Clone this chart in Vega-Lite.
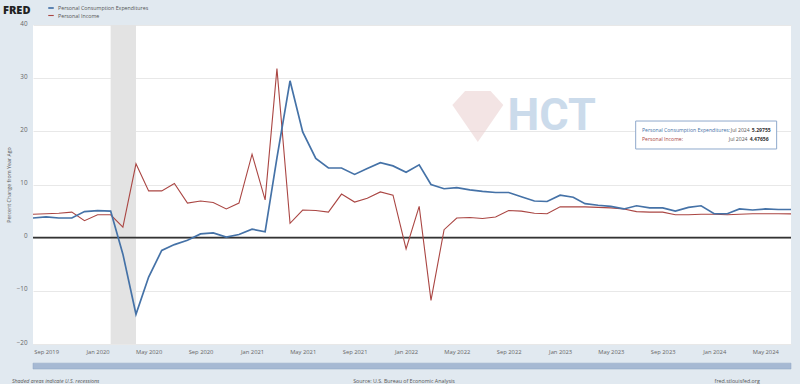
{
  "$schema": "https://vega.github.io/schema/vega-lite/v6.json",
  "width": 758,
  "height": 319,
  "autosize": {"type": "none"},
  "padding": {"left": 33, "top": 25, "right": 9, "bottom": 40},
  "background": "#e1e9f0",
  "config": {
    "view": {"fill": "white", "stroke": null},
    "font": "Open Sans",
    "axisY": {"domain": false, "ticks": false, "grid": true, "gridColor": "#e8e8e8", "labelFontSize": 6.3, "labelColor": "#666666", "labelPadding": 6, "labelBaseline": "alphabetic", "titleFontSize": 5.3, "titleFontWeight": "normal", "titleColor": "#555555", "titlePadding": 5},
    "axisX": {"domain": false, "ticks": false, "grid": false, "labelFontSize": 5.8, "labelColor": "#666666", "labelPadding": 4},
    "legend": {"orient": "none", "legendX": -30, "legendY": -21, "padding": 0, "titleOrient": "left", "titleFontSize": 11, "titleFont": "Open Sans", "titleFontWeight": 900, "titleColor": "#222222", "titlePadding": 16, "labelFontSize": 5.3, "labelColor": "#555555", "symbolType": "stroke", "symbolStrokeWidth": 1.5, "symbolSize": 30, "rowPadding": -1, "labelOffset": 3}
  },
  "datasets": {
    "series": [
      {"date": "2019-08-01", "pce": 3.7, "pi": 4.4},
      {"date": "2019-09-01", "pce": 3.9, "pi": 4.5},
      {"date": "2019-10-01", "pce": 3.7, "pi": 4.6},
      {"date": "2019-11-01", "pce": 3.7, "pi": 4.8},
      {"date": "2019-12-01", "pce": 4.9, "pi": 3.2},
      {"date": "2020-01-01", "pce": 5.1, "pi": 4.3},
      {"date": "2020-02-01", "pce": 5.0, "pi": 4.3},
      {"date": "2020-03-01", "pce": -3.1, "pi": 2.0},
      {"date": "2020-04-01", "pce": -14.4, "pi": 13.9},
      {"date": "2020-05-01", "pce": -7.4, "pi": 8.8},
      {"date": "2020-06-01", "pce": -2.4, "pi": 8.8},
      {"date": "2020-07-01", "pce": -1.3, "pi": 10.2},
      {"date": "2020-08-01", "pce": -0.5, "pi": 6.5},
      {"date": "2020-09-01", "pce": 0.7, "pi": 6.9},
      {"date": "2020-10-01", "pce": 0.9, "pi": 6.6},
      {"date": "2020-11-01", "pce": 0.1, "pi": 5.4},
      {"date": "2020-12-01", "pce": 0.6, "pi": 6.5},
      {"date": "2021-01-01", "pce": 1.6, "pi": 15.7},
      {"date": "2021-02-01", "pce": 1.1, "pi": 7.1},
      {"date": "2021-03-01", "pce": 15.0, "pi": 31.8},
      {"date": "2021-04-01", "pce": 29.5, "pi": 2.7},
      {"date": "2021-05-01", "pce": 19.9, "pi": 5.2},
      {"date": "2021-06-01", "pce": 14.9, "pi": 5.1},
      {"date": "2021-07-01", "pce": 13.1, "pi": 4.8},
      {"date": "2021-08-01", "pce": 13.1, "pi": 8.2},
      {"date": "2021-09-01", "pce": 11.9, "pi": 6.7},
      {"date": "2021-10-01", "pce": 13.0, "pi": 7.4},
      {"date": "2021-11-01", "pce": 14.1, "pi": 8.6},
      {"date": "2021-12-01", "pce": 13.5, "pi": 8.0},
      {"date": "2022-01-01", "pce": 12.3, "pi": -2.1},
      {"date": "2022-02-01", "pce": 13.7, "pi": 5.9},
      {"date": "2022-03-01", "pce": 10.0, "pi": -11.8},
      {"date": "2022-04-01", "pce": 9.2, "pi": 1.5},
      {"date": "2022-05-01", "pce": 9.4, "pi": 3.7},
      {"date": "2022-06-01", "pce": 9.0, "pi": 3.8},
      {"date": "2022-07-01", "pce": 8.7, "pi": 3.6},
      {"date": "2022-08-01", "pce": 8.5, "pi": 3.9},
      {"date": "2022-09-01", "pce": 8.5, "pi": 5.1},
      {"date": "2022-10-01", "pce": 7.7, "pi": 5.0},
      {"date": "2022-11-01", "pce": 6.9, "pi": 4.6},
      {"date": "2022-12-01", "pce": 6.8, "pi": 4.5},
      {"date": "2023-01-01", "pce": 8.0, "pi": 5.8},
      {"date": "2023-02-01", "pce": 7.6, "pi": 5.8},
      {"date": "2023-03-01", "pce": 6.4, "pi": 5.8},
      {"date": "2023-04-01", "pce": 6.1, "pi": 5.7},
      {"date": "2023-05-01", "pce": 5.9, "pi": 5.6},
      {"date": "2023-06-01", "pce": 5.4, "pi": 5.4},
      {"date": "2023-07-01", "pce": 6.0, "pi": 4.9},
      {"date": "2023-08-01", "pce": 5.6, "pi": 4.8},
      {"date": "2023-09-01", "pce": 5.6, "pi": 4.8},
      {"date": "2023-10-01", "pce": 5.0, "pi": 4.3},
      {"date": "2023-11-01", "pce": 5.7, "pi": 4.3},
      {"date": "2023-12-01", "pce": 6.0, "pi": 4.4},
      {"date": "2024-01-01", "pce": 4.5, "pi": 4.4},
      {"date": "2024-02-01", "pce": 4.5, "pi": 4.3},
      {"date": "2024-03-01", "pce": 5.4, "pi": 4.4},
      {"date": "2024-04-01", "pce": 5.2, "pi": 4.5},
      {"date": "2024-05-01", "pce": 5.4, "pi": 4.5},
      {"date": "2024-06-01", "pce": 5.3, "pi": 4.5},
      {"date": "2024-07-01", "pce": 5.29755, "pi": 4.47656}
    ],
    "recessions": [
      {"start": "2020-02-01", "end": "2020-04-01"}
    ],
    "one": [{}]
  },
  "layer": [
    {
      "data": {"name": "recessions"},
      "mark": {"type": "rect", "fill": "#e3e3e3"},
      "encoding": {
        "x": {"field": "start", "type": "temporal", "title": null, "scale": {"domain": [{"year": 2019, "month": 8, "date": 1}, {"year": 2024, "month": 7, "date": 1}], "nice": false}},
        "x2": {"field": "end"}
      }
    },
    {
      "data": {"name": "one"},
      "mark": {"type": "point", "shape": "M-1,-0.45 L-0.5,-1 L0.5,-1 L1,-0.45 L0,1 Z", "filled": true, "size": 2600, "color": "#e9cdcd", "opacity": 0.55},
      "encoding": {
        "x": {"datum": {"year": 2022, "month": 6, "date": 20}, "type": "temporal"},
        "y": {"datum": 22.8, "type": "quantitative"}
      }
    },
    {
      "data": {"name": "one"},
      "mark": {"type": "text", "text": "HCT", "fontSize": 45, "fontWeight": "bold", "font": "Roboto", "color": "#c3d5e8", "opacity": 0.85, "align": "center", "baseline": "middle"},
      "encoding": {
        "x": {"datum": {"year": 2022, "month": 12, "date": 12}, "type": "temporal"},
        "y": {"datum": 22.9, "type": "quantitative"}
      }
    },
    {
      "data": {"name": "one"},
      "mark": {"type": "rule", "color": "#333333", "strokeWidth": 1.6},
      "encoding": {
        "y": {"datum": 0, "type": "quantitative", "scale": {"domain": [-20, 40], "nice": false}}
      }
    },
    {
      "data": {"name": "series"},
      "transform": [{"fold": ["pi", "pce"], "as": ["series", "value"]}],
      "mark": {"type": "line", "interpolate": "linear"},
      "encoding": {
        "x": {"field": "date", "type": "temporal", "title": null, "scale": {"domain": [{"year": 2019, "month": 8, "date": 1}, {"year": 2024, "month": 7, "date": 1}], "nice": false},
          "axis": {"format": "%b %Y", "values": [{"year": 2019, "month": 9, "date": 1}, {"year": 2020, "month": 1, "date": 1}, {"year": 2020, "month": 5, "date": 1}, {"year": 2020, "month": 9, "date": 1}, {"year": 2021, "month": 1, "date": 1}, {"year": 2021, "month": 5, "date": 1}, {"year": 2021, "month": 9, "date": 1}, {"year": 2022, "month": 1, "date": 1}, {"year": 2022, "month": 5, "date": 1}, {"year": 2022, "month": 9, "date": 1}, {"year": 2023, "month": 1, "date": 1}, {"year": 2023, "month": 5, "date": 1}, {"year": 2023, "month": 9, "date": 1}, {"year": 2024, "month": 1, "date": 1}, {"year": 2024, "month": 5, "date": 1}]}},
        "y": {"field": "value", "type": "quantitative", "scale": {"domain": [-20, 40], "nice": false},
          "axis": {"title": "Percent Change from Year Ago", "values": [-20, -10, 0, 10, 20, 30, 40]}},
        "color": {"field": "series", "type": "nominal", "title": "FRED",
          "scale": {"domain": ["pce", "pi"], "range": ["#4572a7", "#aa4643"]},
          "legend": {"labelExpr": "datum.label == 'pce' ? 'Personal Consumption Expenditures' : 'Personal Income'"}},
        "strokeWidth": {"field": "series", "type": "nominal", "legend": null,
          "scale": {"domain": ["pce", "pi"], "range": [1.7, 1.1]}}
      }
    },
    {
      "data": {"name": "one"},
      "mark": {"type": "rect", "fill": "white", "stroke": "#8fa9cc", "strokeWidth": 1},
      "encoding": {
        "x": {"datum": {"year": 2023, "month": 6, "date": 29}, "type": "temporal"},
        "x2": {"datum": {"year": 2024, "month": 5, "date": 28}},
        "y": {"datum": 21.94, "type": "quantitative"},
        "y2": {"datum": 16.68}
      }
    },
    {
      "data": {"name": "one"},
      "mark": {"type": "text", "text": "Personal Consumption Expenditures:", "fontSize": 5.1, "color": "#4572a7", "align": "left", "baseline": "middle"},
      "encoding": {
        "x": {"datum": {"year": 2023, "month": 7, "date": 14}, "type": "temporal"},
        "y": {"datum": 20.25, "type": "quantitative"}
      }
    },
    {
      "data": {"name": "one"},
      "mark": {"type": "text", "text": "Personal Income:", "fontSize": 5.1, "color": "#aa4643", "align": "left", "baseline": "middle"},
      "encoding": {
        "x": {"datum": {"year": 2023, "month": 7, "date": 14}, "type": "temporal"},
        "y": {"datum": 18.56, "type": "quantitative"}
      }
    },
    {
      "data": {"name": "one"},
      "mark": {"type": "text", "text": "Jul 2024", "fontSize": 5.1, "color": "#555555", "align": "right", "baseline": "middle"},
      "encoding": {
        "x": {"datum": {"year": 2024, "month": 3, "date": 25}, "type": "temporal"},
        "y": {"datum": 20.25, "type": "quantitative"}
      }
    },
    {
      "data": {"name": "one"},
      "mark": {"type": "text", "text": "Jul 2024", "fontSize": 5.1, "color": "#555555", "align": "right", "baseline": "middle"},
      "encoding": {
        "x": {"datum": {"year": 2024, "month": 3, "date": 20}, "type": "temporal"},
        "y": {"datum": 18.56, "type": "quantitative"}
      }
    },
    {
      "data": {"name": "one"},
      "mark": {"type": "text", "text": "5.29755", "fontSize": 5.1, "fontWeight": "bold", "color": "#333333", "align": "right", "baseline": "middle"},
      "encoding": {
        "x": {"datum": {"year": 2024, "month": 5, "date": 14}, "type": "temporal"},
        "y": {"datum": 20.25, "type": "quantitative"}
      }
    },
    {
      "data": {"name": "one"},
      "mark": {"type": "text", "text": "4.47656", "fontSize": 5.1, "fontWeight": "bold", "color": "#333333", "align": "right", "baseline": "middle"},
      "encoding": {
        "x": {"datum": {"year": 2024, "month": 5, "date": 9}, "type": "temporal"},
        "y": {"datum": 18.56, "type": "quantitative"}
      }
    },
    {
      "data": {"name": "one"},
      "mark": {"type": "rect", "fill": "#a6b9d3", "stroke": "#8ea4c4", "strokeWidth": 0.5},
      "encoding": {
        "x": {"datum": {"year": 2019, "month": 8, "date": 1}, "type": "temporal"},
        "x2": {"datum": {"year": 2024, "month": 7, "date": 1}},
        "y": {"datum": -23.6, "type": "quantitative"},
        "y2": {"datum": -24.7}
      }
    },
    {
      "data": {"name": "one"},
      "mark": {"type": "text", "text": "Shaded areas indicate U.S. recessions", "fontSize": 5.3, "fontStyle": "italic", "color": "#555555", "align": "left", "baseline": "middle"},
      "encoding": {
        "x": {"datum": {"year": 2019, "month": 6, "date": 12}, "type": "temporal"},
        "y": {"datum": -26.96, "type": "quantitative"}
      }
    },
    {
      "data": {"name": "one"},
      "mark": {"type": "text", "text": "Source: U.S. Bureau of Economic Analysis", "fontSize": 5.3, "color": "#555555", "align": "center", "baseline": "middle"},
      "encoding": {
        "x": {"datum": {"year": 2021, "month": 12, "date": 27}, "type": "temporal"},
        "y": {"datum": -26.96, "type": "quantitative"}
      }
    },
    {
      "data": {"name": "one"},
      "mark": {"type": "text", "text": "fred.stlouisfed.org", "fontSize": 5.3, "color": "#555555", "align": "left", "baseline": "middle"},
      "encoding": {
        "x": {"datum": {"year": 2024, "month": 1, "date": 2}, "type": "temporal"},
        "y": {"datum": -26.96, "type": "quantitative"}
      }
    }
  ]
}
